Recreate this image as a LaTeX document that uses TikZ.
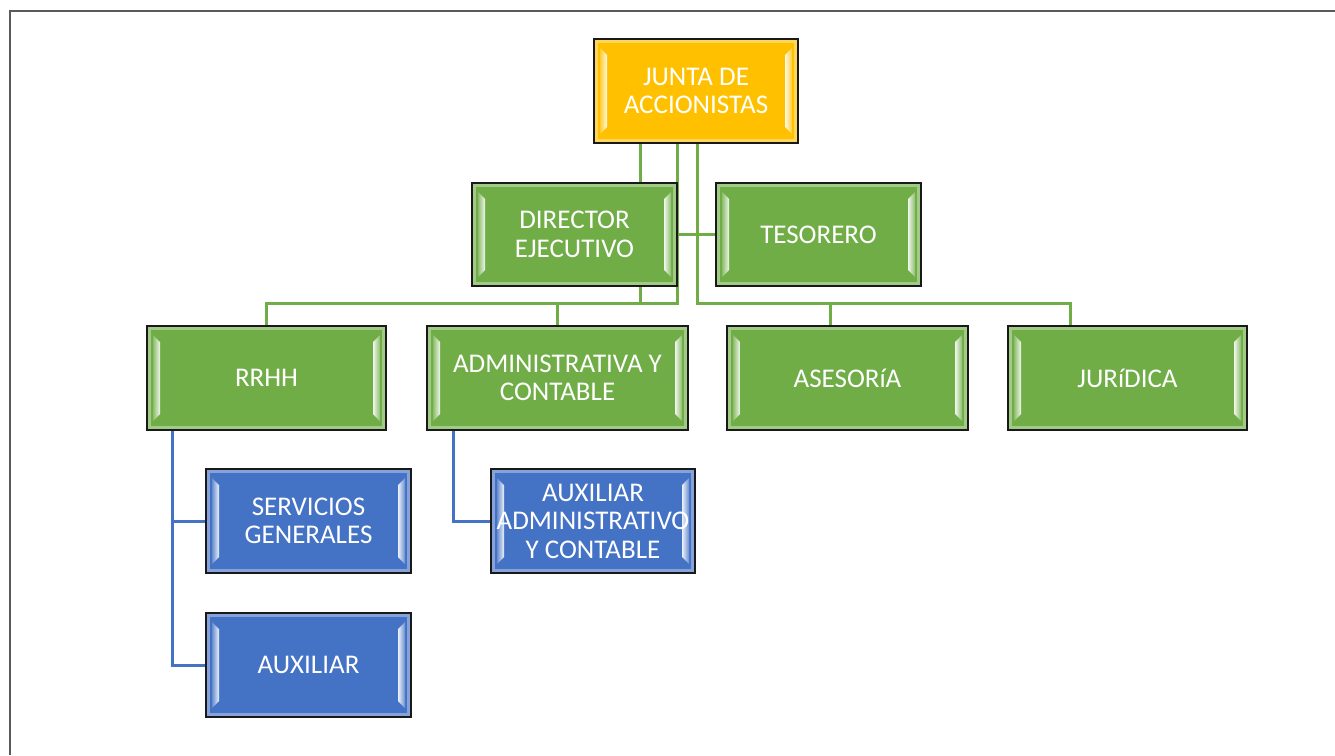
\documentclass[tikz,border=0pt]{standalone}
\usepackage{fontspec}
\setmainfont{Carlito}
\usetikzlibrary{calc,backgrounds}
\definecolor{jyellow}{HTML}{FFC000}
\definecolor{jgreen}{HTML}{70AD47}
\definecolor{jblue}{HTML}{4472C4}
\definecolor{framec}{HTML}{5A5A5A}
\newcommand\mybevel[1]{%
  \coordinate (bsw) at (path picture bounding box.south west);
  \coordinate (bne) at (path picture bounding box.north east);
  \coordinate (bnw) at (path picture bounding box.north west);
  \coordinate (bse) at (path picture bounding box.south east);
  \fill[#1!65!white] (bsw) rectangle (bne);
  \fill[#1] ($(bsw)+(4pt,4pt)$) rectangle ($(bne)+(-4pt,-4pt)$);
  \shade[left color=#1!80!white, right color=#1!10!white]
    ($(bnw)+(6pt,-9pt)$) -- ($(bnw)+(13pt,-16pt)$) -- ($(bsw)+(13pt,16pt)$) -- ($(bsw)+(6pt,9pt)$) -- cycle;
  \shade[left color=#1!10!white, right color=#1!80!white]
    ($(bne)+(-13pt,-16pt)$) -- ($(bne)+(-6pt,-9pt)$) -- ($(bse)+(-6pt,9pt)$) -- ($(bse)+(-13pt,16pt)$) -- cycle;
}
\tikzset{
  orgbox/.style={rectangle, draw=black!90, line width=2pt, fill=#1, text=white,
    align=center, inner sep=0pt, font=\fontsize{27}{28.5}\selectfont,
    minimum width=205pt, minimum height=104pt, path picture={\mybevel{#1}}},
  gline/.style={draw=jgreen, line width=3pt},
  bline/.style={draw=jblue, line width=3pt},
}
\begin{document}
\begin{tikzpicture}[x=1pt,y=-1pt]
\useasboundingbox (0,0) rectangle (1335,755);
\draw[framec, line width=2pt] (9.5,755) -- (9.5,10.5) -- (1335,10.5);

\node[orgbox=jyellow, minimum width=204pt] (junta) at (696,91) {JUNTA DE\\ACCIONISTAS};
\node[orgbox=jgreen, minimum height=103pt] (dir) at (574.5,234.5) {DIRECTOR\\EJECUTIVO};
\node[orgbox=jgreen, minimum height=103pt] (tes) at (818.5,234.5) {TESORERO};
\node[orgbox=jgreen, minimum width=239pt] (rrhh) at (266.5,378) {RRHH};
\node[orgbox=jgreen, minimum width=261pt] (adm) at (557.5,378) {ADMINISTRATIVA Y\\CONTABLE};
\node[orgbox=jgreen, minimum width=241pt] (ase) at (847.5,378) {ASESORíA};
\node[orgbox=jgreen, minimum width=239pt] (jur) at (1127.5,378) {JURíDICA};
\node[orgbox=jblue] (serv) at (308.5,521) {SERVICIOS\\GENERALES};
\node[orgbox=jblue] (aux) at (308.5,665) {AUXILIAR};
\node[orgbox=jblue, minimum width=204pt] (auxa) at (593,521) {AUXILIAR\\ADMINISTRATIVO\\Y CONTABLE};

\coordinate (c640) at (640,0);
\coordinate (c677) at (677,0);
\coordinate (c697) at (697,0);
\coordinate (cbus) at (0,303);
\coordinate (c830) at (830,0);
\coordinate (c1070) at (1070,0);
\coordinate (c172) at (172,0);
\coordinate (c453) at (453,0);

\begin{pgfonlayer}{background}
\draw[gline] (junta.south -| c640) -- (dir.north -| c640);
\draw[gline] (junta.south -| c677) -- (c677 |- cbus) -| (rrhh.north);
\draw[gline] (dir.south -| c640) -- (c640 |- cbus);
\draw[gline] (adm.north |- cbus) -- (adm.north);
\draw[gline] (junta.south -| c697) -- (c697 |- cbus) -| (jur.north -| c1070);
\draw[gline] (c830 |- cbus) -- (ase.north -| c830);
\draw[gline] (dir.east) -- (tes.west);
\draw[bline] (rrhh.south -| c172) |- (serv.west);
\draw[bline] (rrhh.south -| c172) |- (aux.west);
\draw[bline] (adm.south -| c453) |- (auxa.west);
\end{pgfonlayer}
\end{tikzpicture}
\end{document}
